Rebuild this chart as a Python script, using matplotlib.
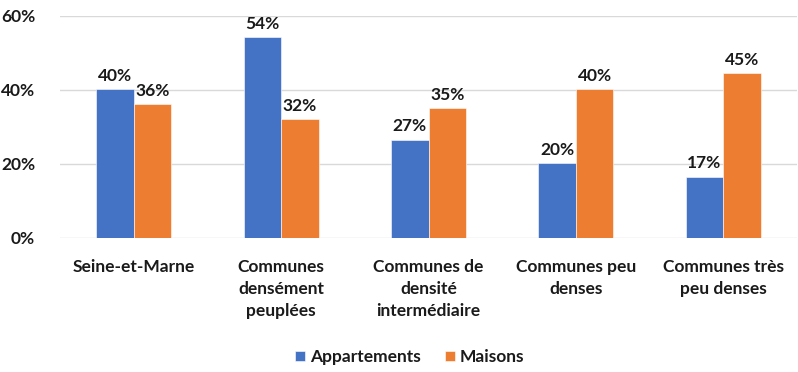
import numpy as np
import matplotlib.pyplot as plt

categories = ['Seine-et-Marne', 'Communes\ndensément\npeuplées', 'Communes de\ndensité\nintermédiaire',
              'Communes peu\ndenses', 'Communes très\npeu denses']
appartements = [40.2, 54.4, 26.6, 20.3, 16.6]
maisons = [36.2, 32.1, 35.1, 40.3, 44.6]

plt.rcParams['font.family'] = ['Lato', 'DejaVu Sans']
txt = '#1a1a1a'

fig = plt.figure(figsize=(7.98, 3.72), dpi=100)
ax = fig.add_axes([60 / 798, 1 - 238 / 372, 737 / 798, 222 / 372])

x = np.arange(len(categories))
w = 0.255
b1 = ax.bar(x - w / 2, appartements, w, color='#4472C4', label='Appartements', edgecolor='white', linewidth=0.4)
b2 = ax.bar(x + w / 2, maisons, w, color='#ED7D31', label='Maisons', edgecolor='white', linewidth=0.4)

for bars in (b1, b2):
    for r in bars:
        h = r.get_height()
        ax.text(r.get_x() + r.get_width() / 2, h + 1.4, f'{h:.0f}%', ha='center', va='bottom',
                fontsize=12.5, fontweight='bold', color=txt)

ax.set_xlim(-0.5, len(categories) - 0.5)
ax.set_ylim(0, 60)
ax.set_yticks([0, 20, 40, 60])
ax.set_yticklabels(['0%', '20%', '40%', '60%'], fontsize=12.5, fontweight='bold', color=txt)
ax.set_xticks(x)
ax.set_xticklabels(categories, fontsize=12.5, fontweight='bold', color=txt, linespacing=1.45, va='top')
ax.tick_params(axis='both', length=0)
ax.tick_params(axis='x', pad=15)
ax.tick_params(axis='y', pad=18)
ax.yaxis.grid(True, color='#D9D9D9', linewidth=1)
ax.set_axisbelow(True)
for s in ax.spines.values():
    s.set_visible(False)

fig.legend(handles=[b1, b2], loc='center', bbox_to_anchor=(410 / 798, 1 - 357 / 372), ncol=2, frameon=False,
           prop={'size': 12.5, 'weight': 'bold'}, handlelength=0.55, handleheight=0.55, handletextpad=0.3,
           columnspacing=1.4, labelcolor=txt)

fig.savefig('out.png', dpi=100, facecolor='white')
